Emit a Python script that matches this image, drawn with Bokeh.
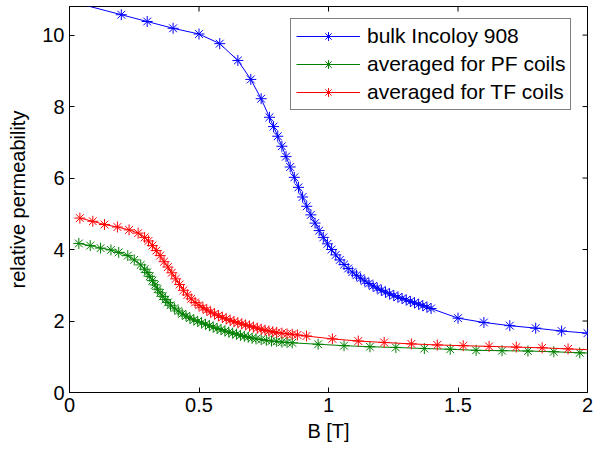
import math
from bokeh.plotting import figure
from bokeh.models import Range1d, FixedTicker, Legend, LegendItem
from bokeh.embed import file_html
from bokeh.resources import INLINE

# ---- data ----
b_bulk = [0.0, 0.2, 0.3, 0.4, 0.5, 0.58, 0.65, 0.70, 0.74, 0.772, 0.788, 0.804,
          0.820, 0.836, 0.852, 0.868, 0.884, 0.900, 0.916, 0.932, 0.948, 0.964,
          0.980, 0.996, 1.012, 1.028, 1.044, 1.060, 1.076, 1.092, 1.108, 1.124,
          1.140, 1.156, 1.172, 1.188, 1.204, 1.220, 1.236, 1.252, 1.268, 1.284,
          1.300, 1.316, 1.332, 1.348, 1.364, 1.380, 1.396, 1.5, 1.6, 1.7, 1.8,
          1.9, 2.0]
mu_bulk = [10.95, 10.57, 10.38, 10.19, 10.03, 9.76, 9.29, 8.76, 8.22, 7.70, 7.44,
           7.17, 6.89, 6.60, 6.31, 6.02, 5.74, 5.47, 5.21, 4.97, 4.74, 4.53, 4.34,
           4.16, 4.00, 3.85, 3.71, 3.58, 3.47, 3.37, 3.28, 3.20, 3.12, 3.05, 2.98,
           2.92, 2.86, 2.81, 2.76, 2.71, 2.67, 2.63, 2.59, 2.55, 2.51, 2.47, 2.43,
           2.39, 2.35, 2.08, 1.96, 1.87, 1.80, 1.72, 1.66]

b_pf = [0.036, 0.08, 0.12, 0.16, 0.19, 0.225, 0.25, 0.275, 0.29, 0.30, 0.31, 0.32,
        0.33, 0.34, 0.35, 0.36, 0.37, 0.38, 0.39, 0.405, 0.42, 0.435, 0.45, 0.465,
        0.48, 0.495, 0.51, 0.525, 0.54, 0.555, 0.57, 0.585, 0.60, 0.615, 0.63,
        0.645, 0.66, 0.675, 0.69, 0.705, 0.72, 0.74, 0.76, 0.78, 0.80, 0.82, 0.84,
        0.86, 0.96, 1.06, 1.16, 1.26, 1.37, 1.47, 1.57, 1.67, 1.77, 1.87, 1.97, 2.07]
mu_pf = [4.17, 4.11, 4.04, 3.99, 3.92, 3.83, 3.71, 3.57, 3.45, 3.36, 3.25, 3.13,
         3.01, 2.89, 2.79, 2.69, 2.60, 2.52, 2.44, 2.36, 2.28, 2.20, 2.14, 2.08,
         2.03, 1.99, 1.95, 1.91, 1.87, 1.83, 1.79, 1.76, 1.72, 1.69, 1.66, 1.63,
         1.60, 1.57, 1.55, 1.52, 1.50, 1.48, 1.46, 1.44, 1.43, 1.41, 1.40, 1.39,
         1.35, 1.31, 1.28, 1.26, 1.23, 1.21, 1.18, 1.17, 1.16, 1.14, 1.11, 1.09]

b_tf = [0.04, 0.09, 0.135, 0.185, 0.23, 0.265, 0.29, 0.305, 0.32, 0.335, 0.35,
        0.365, 0.38, 0.395, 0.41, 0.425, 0.44, 0.455, 0.47, 0.485, 0.50, 0.515,
        0.53, 0.545, 0.56, 0.575, 0.59, 0.605, 0.62, 0.635, 0.65, 0.665, 0.68,
        0.695, 0.71, 0.725, 0.74, 0.755, 0.77, 0.785, 0.80, 0.82, 0.84, 0.86,
        0.88, 0.915, 1.015, 1.115, 1.215, 1.32, 1.42, 1.52, 1.62, 1.725, 1.825,
        1.925, 2.03]
mu_tf = [4.88, 4.79, 4.70, 4.63, 4.55, 4.46, 4.34, 4.24, 4.11, 3.97, 3.83, 3.66,
         3.51, 3.35, 3.18, 3.02, 2.86, 2.73, 2.62, 2.52, 2.44, 2.37, 2.31, 2.25,
         2.20, 2.15, 2.10, 2.06, 2.02, 1.98, 1.95, 1.92, 1.89, 1.86, 1.83, 1.80,
         1.77, 1.74, 1.72, 1.70, 1.68, 1.66, 1.64, 1.63, 1.61, 1.58, 1.50, 1.44,
         1.40, 1.36, 1.33, 1.31, 1.29, 1.27, 1.25, 1.22, 1.19]

series_names = ["bulk Incoloy 908", "averaged for PF coils", "averaged for TF coils"]
series_colors = ["#0000ff", "#008000", "#ff0000"]

x_min, x_max = 0, 2
y_min, y_max = 0, 10.8
x_ticks = [0, 0.5, 1, 1.5, 2]
x_tick_labels = ["0", "0.5", "1", "1.5", "2"]
y_ticks = [0, 2, 4, 6, 8, 10]
y_tick_labels = ["0", "2", "4", "6", "8", "10"]
x_label = "B [T]"
y_label = "relative permeability"

FONT = "Liberation Sans"
FS = "20px"

p = figure(width=594, height=454, output_backend="svg", toolbar_location=None,
           x_range=Range1d(x_min, x_max), y_range=Range1d(y_min, y_max),
           min_border_left=69, min_border_right=7, min_border_top=6,
           min_border_bottom=62)
p.xgrid.visible = False
p.ygrid.visible = False
p.background_fill_color = "white"
p.border_fill_color = "white"
p.outline_line_color = "black"
p.outline_line_width = 1

for ax, ticks, labels in ((p.xaxis[0], x_ticks, x_tick_labels),
                          (p.yaxis[0], y_ticks, y_tick_labels)):
    ax.ticker = FixedTicker(ticks=ticks)
    ax.major_label_overrides = dict(zip(ticks, labels))
    ax.minor_tick_line_color = None
    ax.major_tick_in = 5
    ax.major_tick_out = 0
    ax.major_tick_line_color = "black"
    ax.axis_line_color = "black"
    ax.major_label_text_font = FONT
    ax.major_label_text_font_size = FS
    ax.major_label_text_color = "black"
    ax.major_label_standoff = 5
    ax.axis_label_text_font = FONT
    ax.axis_label_text_font_size = FS
    ax.axis_label_text_font_style = "normal"
    ax.axis_label_text_color = "black"
p.xaxis[0].axis_label = x_label
p.yaxis[0].axis_label = y_label
p.xaxis[0].axis_label_standoff = 5
p.yaxis[0].axis_label_standoff = 10

# inward ticks on the top and right edges of the box (clipped to the frame)
p.scatter(x_ticks, [y_max] * len(x_ticks), marker="dash", angle=math.pi / 2,
          size=10, line_color="black", line_width=1)
p.scatter([x_max] * len(y_ticks), y_ticks, marker="dash", size=10,
          line_color="black", line_width=1)

items = []
for bx, my, name, col in zip([b_bulk, b_pf, b_tf], [mu_bulk, mu_pf, mu_tf],
                             series_names, series_colors):
    lr = p.line(bx, my, line_color=col, line_width=1)
    sr = p.scatter(bx, my, marker="asterisk", size=11, line_color=col, line_width=1)
    items.append(LegendItem(label=name, renderers=[lr, sr]))

legend = Legend(items=items, location=(221, 282))
legend.label_text_font = FONT
legend.label_text_font_size = "21px"
legend.label_text_color = "black"
legend.glyph_width = 64
legend.glyph_height = 22
legend.label_height = 22
legend.label_standoff = 7
legend.spacing = 4
legend.padding = 5
legend.margin = 0
legend.border_line_color = "black"
legend.border_line_width = 1
legend.background_fill_color = "white"
legend.background_fill_alpha = 1
p.add_layout(legend)

open("out.html", "w").write(file_html(p, INLINE))
